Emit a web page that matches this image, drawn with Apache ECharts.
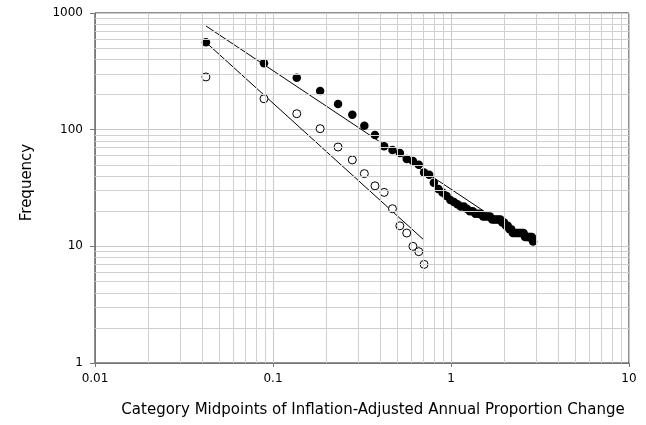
<!DOCTYPE html>
<html>
<head>
<meta charset="utf-8">
<script src="https://cdn.jsdelivr.net/npm/echarts@6/dist/echarts.min.js"></script>
<style>
html,body{margin:0;padding:0;background:#fff;}
#chart{width:646px;height:425px;}
</style>
</head>
<body>
<div id="chart"></div>
<script>
// Category midpoints (x) shared by both series
const midpoints = [0.042, 0.089, 0.136, 0.184, 0.232, 0.279, 0.326, 0.374, 0.421, 0.469,
  0.516, 0.564, 0.611, 0.659, 0.706, 0.754, 0.801, 0.849, 0.896, 0.944,
  0.991, 1.039, 1.086, 1.134, 1.181, 1.229, 1.276, 1.324, 1.371, 1.419,
  1.466, 1.514, 1.561, 1.609, 1.656, 1.704, 1.751, 1.799, 1.846, 1.894,
  1.941, 1.989, 2.036, 2.084, 2.131, 2.179, 2.226, 2.274, 2.321, 2.369,
  2.416, 2.464, 2.511, 2.559, 2.606, 2.654, 2.701, 2.749, 2.796, 2.844, 2.891];
// Filled series frequencies
const filledFreq = [561, 371, 279, 214, 166, 134, 108, 90, 72, 67,
  63, 56, 54, 50, 43, 41, 35, 31, 29, 27,
  25, 24, 23, 22, 22, 21, 20, 20, 19, 19,
  19, 18, 18, 18, 18, 17, 17, 17, 17, 17,
  16, 16, 15, 15, 14, 14, 13, 13, 13, 13,
  13, 13, 13, 13, 12, 12, 12, 12, 12, 12, 11];
// Open series frequencies (first 15 midpoints)
const openFreq = [283, 184, 137, 102, 71, 55, 42, 33, 29, 21, 15, 13, 10, 9, 7];
// Trend line end points
const filledTrendX = [0.042, 2.891];
const filledTrendY = [774, 10.5];
const openTrendX = [0.042, 0.706];
const openTrendY = [560, 11.3];
// Minor gridline values
const xMinor = [0.02,0.03,0.04,0.05,0.06,0.07,0.08,0.09,0.2,0.3,0.4,0.5,0.6,0.7,0.8,0.9,2,3,4,5,6,7,8,9];
const yMinor = [2,3,4,5,6,7,8,9,20,30,40,50,60,70,80,90,200,300,400,500,600,700,800,900];
const xTitle = 'Category Midpoints of Inflation-Adjusted Annual Proportion Change';
const yTitle = 'Frequency';

const FONT = 'DejaVu Sans';
const chart = echarts.init(document.getElementById('chart'), null, {renderer: 'canvas'});
const fmt = v => String(+(+v).toPrecision(6));
const pair = (xs, ys) => xs.map((x, i) => [x, ys[i]]);

chart.setOption({
  animation: false,
  backgroundColor: '#fff',
  grid: {left: 95, right: 17, top: 13, bottom: 62, show: true, borderColor: '#222', borderWidth: 1, backgroundColor: 'transparent'},
  xAxis: {
    type: 'log', logBase: 10, min: 0.01, max: 10,
    name: xTitle, nameLocation: 'middle', nameGap: 40,
    nameTextStyle: {fontFamily: FONT, fontSize: 15, color: '#000', padding: [0, 0, 0, 22]},
    axisLine: {show: true, lineStyle: {color: '#777', width: 1}},
    axisTick: {show: true, length: 4, lineStyle: {color: '#777'}},
    axisLabel: {fontFamily: FONT, fontSize: 12, color: '#000', margin: 10, formatter: fmt},
    splitLine: {show: true, lineStyle: {color: '#c8c8c8', width: 1}},
    minorTick: {show: false}, minorSplitLine: {show: false}
  },
  yAxis: {
    type: 'log', logBase: 10, min: 1, max: 1000,
    name: yTitle, nameLocation: 'middle', nameGap: 60,
    nameTextStyle: {fontFamily: FONT, fontSize: 15, color: '#000', padding: [0, 0, 0, 11]},
    axisLine: {show: true, lineStyle: {color: '#777', width: 1}},
    axisTick: {show: true, length: 5, lineStyle: {color: '#777'}},
    axisLabel: {fontFamily: FONT, fontSize: 12, color: '#000', margin: 12, formatter: fmt},
    splitLine: {show: true, lineStyle: {color: '#c8c8c8', width: 1}},
    minorTick: {show: false}, minorSplitLine: {show: false}
  },
  series: [
    {
      type: 'scatter', data: [], silent: true, z: 0,
      markLine: {
        silent: true, symbol: ['none', 'none'], label: {show: false}, animation: false,
        lineStyle: {color: '#d0d0d0', width: 1, type: 'solid'},
        emphasis: {disabled: true},
        data: xMinor.map(v => ({xAxis: v})).concat(yMinor.map(v => ({yAxis: v})))
      }
    },
    {
      type: 'line', data: pair(filledTrendX, filledTrendY), symbol: 'none', z: 2,
      lineStyle: {color: '#000', width: 1}, silent: true
    },
    {
      type: 'line', data: pair(openTrendX, openTrendY), symbol: 'none', z: 2,
      lineStyle: {color: '#000', width: 1}, silent: true
    },
    {
      type: 'scatter', data: pair(midpoints, filledFreq), symbol: 'circle', symbolSize: 8.5, z: 3,
      itemStyle: {color: '#000', opacity: 1}
    },
    {
      type: 'scatter', data: pair(midpoints.slice(0, openFreq.length), openFreq), symbol: 'circle', symbolSize: 8, z: 3,
      itemStyle: {color: '#fff', borderColor: '#000', borderWidth: 1, opacity: 1}
    }
  ]
});
</script>
</body>
</html>
